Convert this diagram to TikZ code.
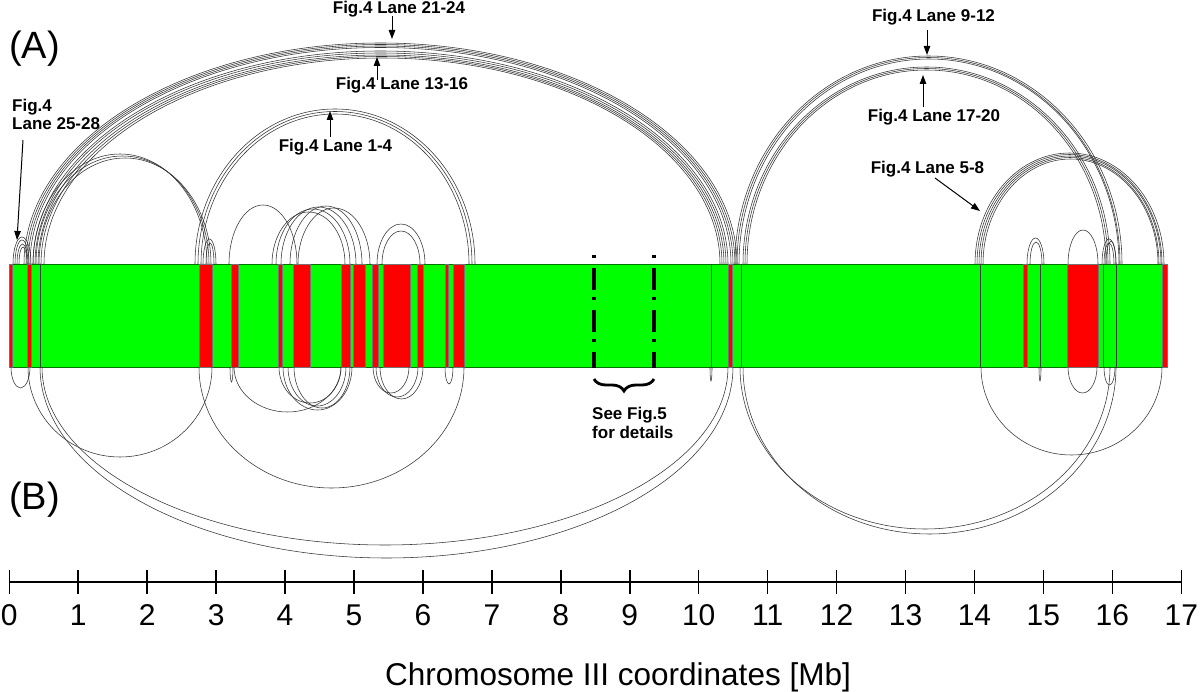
\documentclass[tikz,border=0pt]{standalone}
\usepackage{fontspec}
\setmainfont{Liberation Sans}
\usetikzlibrary{arrows.meta,decorations.pathreplacing}
\tikzset{
  arcl/.style={draw=black!80, line width=0.55pt},
  lbl/.style={font=\fontsize{17}{20}\selectfont\bfseries, inner sep=0pt},
  ptr/.style={-{Triangle[length=9pt,width=6.5pt]}, line width=1pt},
  redband/.style={fill=red, draw=black!55, line width=0.4pt},
  barline/.style={draw=black!75, line width=0.5pt},
  axisl/.style={line width=1.5pt},
  dashdotl/.style={line width=3.2pt, dash pattern=on 3.5pt off 9.5pt on 22pt off 7pt},
  bracel/.style={line width=2.8pt, decorate, decoration={brace, amplitude=12pt, mirror}},
  panel/.style={font=\fontsize{38}{44}\selectfont, inner sep=0pt, anchor=base west},
  ticknum/.style={font=\fontsize{30}{36}\selectfont, inner sep=0pt, anchor=base}
}
\newcommand\uparcx[3]{\draw[arcl] (#1,264) arc[start angle=180,end angle=0,x radius={(#2-#1)*0.5pt},y radius={#3*1pt}];}
\newcommand\loarcx[3]{\draw[arcl] (#1,367) arc[start angle=180,end angle=360,x radius={(#2-#1)*0.5pt},y radius={#3*1pt}];}
\begin{document}
\begin{tikzpicture}[x=1pt,y=-1pt]
\useasboundingbox (0,0) rectangle (1200,692);
\fill[white] (0,0) rectangle (1200,692);

% chromosome bar
\node[draw=green!45!black, fill={rgb,255:red,0;green,255;blue,0}, line width=0.6pt, minimum width=1158.3pt, minimum height=103pt, inner sep=0pt, anchor=north west] (bar) at (8.7,264) {};
\foreach \a/\b in {8.7/11.7,27/31,199/212,231/238,278/282,293/310,341/350,353/365,372/378,383/410,417/423,445/448,453/464,728/732,1023/1027,1067/1098,1162/1167}
  {\draw[redband] (\a,264) rectangle (\b,367);}
\foreach \a in {40.7,711,741,980,1040,1103,1116}
  {\draw[barline] (\a,264) -- (\a,367);}

% upper arcs
\foreach \a/\b/\h in {24/737/221,26/735/219.5,28/733/218,30/731/216.5,
  33/728/213,35/726/211,38/724/209,41/722/207.5,44/720/206,
  33/207/110,36/209/108,39/211/106,
  13/31/27,15/29/24,17/28/20,19/27/17,
  203/216/25,206/214/21,
  229/297/59,272/345/52,276/350/55,281/356/57,290/362/58,298/370/56,
  377/425/40,382/420/33,
  195/475/155,198/472/152.5,201/469/150,
  735/1122/208,737/1120/206.5,739/1119/205,
  743/1110/197,745/1108/195.5,747/1106/194,
  975/1164/111,977/1162/109.5,979/1161/108,981/1159/106.5,983/1158/105,
  1027/1044/26,1030/1042/22,1068/1098/34,1102/1116/25,1104/1114/21,1106/1116/23}
  {\uparcx{\a}{\b}{\h}}

% lower arcs
\foreach \a/\b/\h in {11/30/21,28/212/90,40/733/191,42/728/178,199/464/121,
  230/233/15,234/341/45,279/341/36,283/352/43,288/346/39,294/350/41,
  373/409/26,376/418/30,380/423/32,445/453/17,710/712/14,
  740/1110/162,743/1116/167,981/1162/88,1068/1097/26,1104/1115/18,1039/1041/14}
  {\loarcx{\a}{\b}{\h}}

% region marks
\coordinate (d1t) at (594,255); \coordinate (d1b) at (594,368);
\coordinate (d2t) at (654,255); \coordinate (d2b) at (654,368);
\draw[dashdotl] (d1t) -- (d1b);
\draw[dashdotl] (d2t) -- (d2b);
\coordinate (br1) at (594,379); \coordinate (br2) at (654,379);
\draw[bracel] (br1) -- (br2);
\node[lbl, anchor=base west] (see1) at (592,420) {See Fig.5};
\node[lbl, anchor=base west] (see2) at (592,438.5) {for details};

% labels and pointers
\node[lbl, anchor=base] (l2124) at (399,13.5) {Fig.4 Lane 21-24};
\coordinate (t2124) at (392,16); \coordinate (h2124) at (392,39);
\draw[ptr] (t2124) -- (h2124);
\node[lbl, anchor=base] (l1316) at (402,90) {Fig.4 Lane 13-16};
\coordinate (t1316) at (377,80); \coordinate (h1316) at (377,57);
\draw[ptr] (t1316) -- (h1316);
\node[lbl, anchor=base] (l14) at (335.5,152) {Fig.4 Lane 1-4};
\coordinate (t14) at (330,137); \coordinate (h14) at (330,111);
\draw[ptr] (t14) -- (h14);
\node[lbl, anchor=base west] (l2528a) at (12,111.5) {Fig.4};
\node[lbl, anchor=base west] (l2528b) at (12,130) {Lane 25-28};
\coordinate (t2528) at (23,140); \coordinate (h2528) at (17,240);
\draw[ptr] (t2528) -- (h2528);
\node[lbl, anchor=base] (l912) at (933.5,22) {Fig.4 Lane 9-12};
\coordinate (t912) at (927,30); \coordinate (h912) at (927,55);
\draw[ptr] (t912) -- (h912);
\node[lbl, anchor=base] (l1720) at (934,122) {Fig.4 Lane 17-20};
\coordinate (t1720) at (923,107); \coordinate (h1720) at (923,75);
\draw[ptr] (t1720) -- (h1720);
\node[lbl, anchor=base] (l58) at (927.5,174) {Fig.4 Lane 5-8};
\coordinate (t58) at (935,178); \coordinate (h58) at (980,211);
\draw[ptr] (t58) -- (h58);

% panel letters
\node[panel] (pA) at (9,59) {(A)};
\node[panel] (pB) at (9,509) {(B)};

% axis
\coordinate (ax0) at (9.3,582); \coordinate (ax17) at (1181.3,582);
\draw[axisl] (ax0) -- (ax17);
\foreach \k in {0,...,17} {
  \draw[axisl] ({9.3+68.94*\k},570) -- ({9.3+68.94*\k},594);
  \node[ticknum] (n\k) at ({9.3+68.94*\k},625) {\k};
}
\node[font=\fontsize{31.5}{36}\selectfont, inner sep=0pt, anchor=base] (title) at (618,685) {Chromosome III coordinates [Mb]};
\end{tikzpicture}
\end{document}
